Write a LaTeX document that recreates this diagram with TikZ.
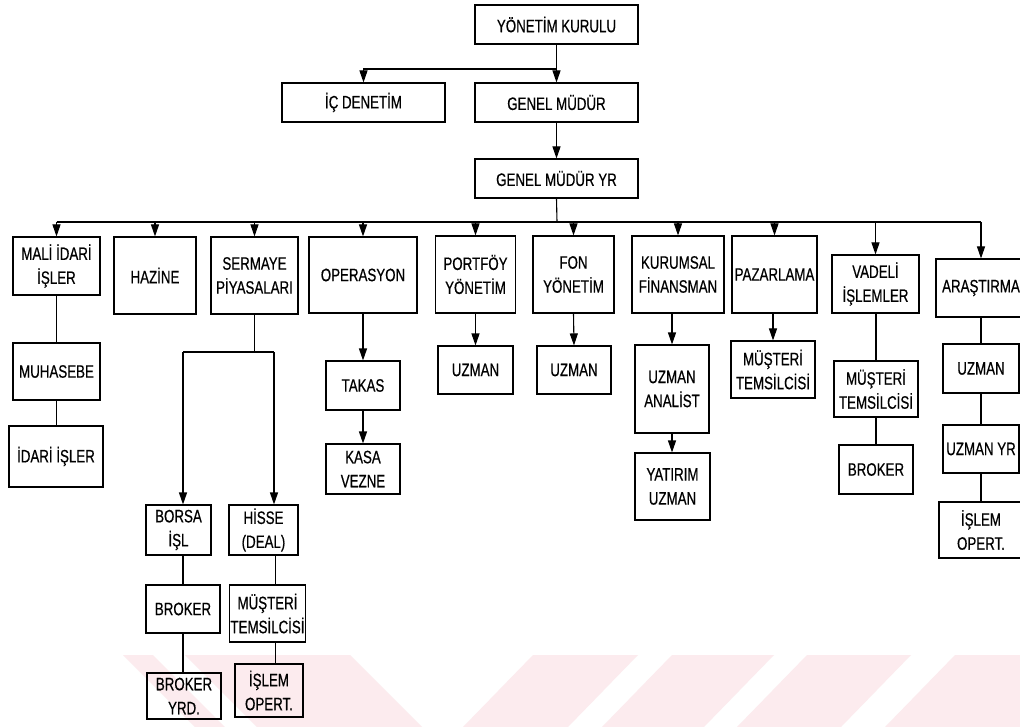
\documentclass[tikz,border=0pt]{standalone}
\usepackage{fontspec}
\setmainfont{Liberation Sans}[FakeStretch=0.74,FakeBold=0.5]
\usetikzlibrary{arrows.meta}
\definecolor{wmpink}{RGB}{252,235,238}
\newcommand\lab{\fontsize{18}{24}\selectfont}
\tikzset{
  box/.style={draw, line width=1.1pt, inner sep=1pt, align=center, font=\lab},
  conn/.style={line width=1.1pt},
  arr/.style={line width=1.1pt, -{Triangle[length=12pt,width=8pt]}},
  wm/.style={fill=wmpink, draw=none}
}
\begin{document}
\begin{tikzpicture}[x=1pt,y=-1pt]
\useasboundingbox (0,0) rectangle (1020,727);
\clip (0,0) rectangle (1020,727);
\fill[white] (0,0) rectangle (1020,727);
% watermark stripes
\fill[wm] (123,655) -- (153,655) -- (225,727) -- (195,727) -- cycle;
\fill[wm] (185,655) -- (350,655) -- (422,727) -- (257,727) -- cycle;
\fill[wm] (533,655) -- (638,655) -- (568,727) -- (463,727) -- cycle;
\fill[wm] (672,655) -- (774,655) -- (704,727) -- (602,727) -- cycle;
\fill[wm] (807,655) -- (911,655) -- (841,727) -- (737,727) -- cycle;
\fill[wm] (955,655) -- (1100,655) -- (1030,727) -- (885,727) -- cycle;

% top levels
\node[box, minimum width=163pt, minimum height=39pt] (yk) at (556.5,24.5) {YÖNETİM KURULU};
\node[box, minimum width=163pt, minimum height=39pt] (ic) at (363.5,102.5) {İÇ DENETİM};
\node[box, minimum width=163pt, minimum height=39pt] (gm) at (556.5,102.5) {GENEL MÜDÜR};
\node[box, minimum width=163pt, minimum height=39pt] (gmyr) at (556.5,178.5) {GENEL MÜDÜR YR};

% departments
\node[box, minimum width=87pt, minimum height=58pt] (mali) at (56.5,266) {MALİ İDARİ\\İŞLER};
\node[box, minimum width=82pt, minimum height=77pt] (haz) at (155,275.5) {HAZİNE};
\node[box, minimum width=87pt, minimum height=77pt] (ser) at (254.5,275.5) {SERMAYE\\PİYASALARI};
\node[box, minimum width=108pt, minimum height=76pt] (ops) at (363,275) {OPERASYON};
\node[box, minimum width=80pt, minimum height=77pt] (port) at (475.5,274.5) {PORTFÖY\\YÖNETİM};
\node[box, minimum width=81pt, minimum height=77pt] (fon) at (573.5,274.5) {FON\\YÖNETİM};
\node[box, minimum width=92pt, minimum height=77pt] (kur) at (678,274.5) {KURUMSAL\\FİNANSMAN};
\node[box, minimum width=85pt, minimum height=77pt] (paz) at (774.5,274.5) {PAZARLAMA};
\node[box, minimum width=87pt, minimum height=58pt] (vad) at (875.5,284) {VADELİ\\İŞLEMLER};
\node[box, minimum width=90pt, minimum height=58pt] (ara) at (981,288) {ARAŞTIRMA};

% sub units
\node[box, minimum width=87pt, minimum height=57pt] (muh) at (56.5,371.5) {MUHASEBE};
\node[box, minimum width=94pt, minimum height=61pt] (idari) at (56,456.5) {İDARİ İŞLER};
\node[box, minimum width=74pt, minimum height=49pt] (takas) at (363,385.5) {TAKAS};
\node[box, minimum width=74pt, minimum height=50pt] (kasa) at (363,469) {KASA\\VEZNE};
\node[box, minimum width=75pt, minimum height=48pt] (uz1) at (475.5,370) {UZMAN};
\node[box, minimum width=74pt, minimum height=48pt] (uz2) at (574,370) {UZMAN};
\node[box, minimum width=74pt, minimum height=88pt] (uzan) at (672,389) {UZMAN\\ANALİST};
\node[box, minimum width=75pt, minimum height=67pt] (yat) at (672.5,486.5) {YATIRIM\\UZMAN};
\node[box, minimum width=84pt, minimum height=57pt] (mt1) at (773,369.5) {MÜŞTERİ\\TEMSİLCİSİ};
\node[box, minimum width=84pt, minimum height=56pt] (mt2) at (876,389) {MÜŞTERİ\\TEMSİLCİSİ};
\node[box, minimum width=74pt, minimum height=49pt] (brk1) at (876,469.5) {BROKER};
\node[box, minimum width=76pt, minimum height=49pt] (uz3) at (981,368.5) {UZMAN};
\node[box, minimum width=76pt, minimum height=48pt] (uzyr) at (981,449) {UZMAN YR};
\node[box, minimum width=84pt, minimum height=56pt] (isl1) at (981,530) {İŞLEM\\OPERT.};
\node[box, minimum width=65pt, minimum height=50pt] (borsa) at (178.5,530) {BORSA\\İŞL};
\node[box, minimum width=69pt, minimum height=50pt] (hisse) at (263.5,530) {HİSSE\\(DEAL)};
\node[box, minimum width=74pt, minimum height=48pt] (brk2) at (183,609) {BROKER};
\node[box, minimum width=69pt, minimum height=57pt] (mt3) at (267.5,613.5) {MÜŞTERİ\\TEMSİLCİSİ};
\node[box, minimum width=74pt, minimum height=46pt] (byrd) at (184,696) {BROKER\\YRD.};
\node[box, minimum width=68pt, minimum height=53pt] (isl2) at (269,690.5) {İŞLEM\\OPERT.};

% connectors top
\coordinate (j1) at (557,69);
\draw[arr] (yk.south) -- (gm.north);
\draw[arr] (j1) -| (ic.north);
\draw[arr] (gm.south) -- (gmyr.north);
\coordinate (bus) at (557,222);
\coordinate (busL) at (56.5,222);
\coordinate (busR) at (981,222);
\draw[conn] (gmyr.south) -- (bus);
\draw[conn] (busL) -- (busR);
\foreach \n in {mali,haz,ser,ops,port,fon,kur,paz,vad,ara}
  \draw[arr] (\n.north |- bus) -- (\n.north);

% left branches
\draw[conn] (mali.south) -- (muh.north);
\draw[conn] (muh.south) -- (idari.north -| muh.south);
\coordinate (sl) at (183,352);
\coordinate (sr) at (274,352);
\draw[conn] (ser.south) -- (ser.south |- sl);
\draw[conn] (sl) -- (sr);
\draw[arr] (sl) -- (sl |- borsa.north);
\draw[arr] (sr) -- (sr |- hisse.north);
\draw[conn] (brk2.north |- borsa.south) -- (brk2.north);
\draw[conn] (brk2.south) -- (brk2.south |- byrd.north);
\coordinate (hr) at (275.5,352);
\draw[conn] (hr |- hisse.south) -- (hr |- mt3.north);
\draw[conn] (hr |- mt3.south) -- (hr |- isl2.north);

% middle branches
\draw[arr] (ops.south) -- (takas.north);
\draw[arr] (takas.south) -- (kasa.north);
\draw[arr] (port.south) -- (uz1.north);
\draw[arr] (fon.south) -- (uz2.north);
\draw[arr] (uzan.north |- kur.south) -- (uzan.north);
\draw[arr] (uzan.south) -- (yat.north -| uzan.south);
\draw[arr] (mt1.north |- paz.south) -- (mt1.north);

% right branches
\draw[conn] (vad.south -| mt2.north) -- (mt2.north);
\draw[conn] (mt2.south) -- (brk1.north);
\draw[conn] (ara.south) -- (uz3.north);
\draw[conn] (uz3.south) -- (uzyr.north);
\draw[conn] (uzyr.south) -- (isl1.north);
\end{tikzpicture}
\end{document}
